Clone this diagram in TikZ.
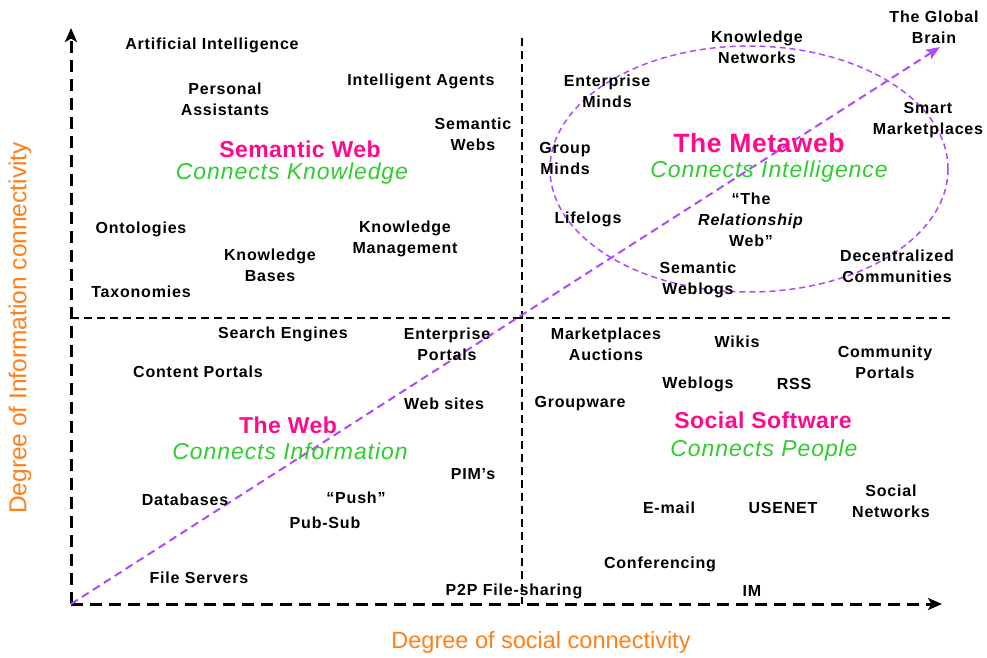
\documentclass[tikz,border=0pt]{standalone}
\usepackage{fontspec}
\setmainfont{Liberation Sans}
\usetikzlibrary{arrows.meta,positioning}
\definecolor{webpink}{HTML}{FF0A8C}
\definecolor{webgreen}{HTML}{2ECC2E}
\definecolor{axisorange}{HTML}{FF7F1A}
\definecolor{metaviolet}{HTML}{B048FF}
\tikzset{
item/.style={
  align=center,
  inner sep=0pt,
  font=\fontsize{16}{21}\selectfont\bfseries\addfontfeature{LetterSpace=5}
  },
area/.style={
  text=webpink,
  inner sep=0pt,
  font=\fontsize{23}{25}\selectfont\bfseries\addfontfeature{LetterSpace=2}
  },
motto/.style={
  text=webgreen,
  inner sep=0pt,
  font=\fontsize{23}{25}\selectfont\itshape\addfontfeature{LetterSpace=4}
  },
axislabel/.style={
  text=axisorange,
  inner sep=0pt,
  font=\fontsize{23.5}{25}\selectfont
  },
axis/.style={
  line width=3pt,
  dash pattern=on 12pt off 7pt,
  -{Stealth[length=14pt,width=12pt,inset=3.5pt]}
  },
divider/.style={
  line width=2.5pt,
  dash pattern=on 8pt off 5pt
  },
trend/.style={
  metaviolet,
  line width=2pt,
  dash pattern=on 8pt off 5pt
  }
}

\begin{document}
\begin{tikzpicture}[x=1pt,y=-1pt]
  \useasboundingbox (0,0) rectangle (987,657);

  % axes and quadrants
  \coordinate (origin) at (71,604);
  \coordinate (ytop) at (71,28);
  \coordinate (xend) at (942,604);
  \coordinate (vtop) at (522,38);
  \coordinate (vbot) at (522,604);
  \coordinate (hleft) at (71,318);
  \coordinate (hright) at (950,318);
  \coordinate (brain) at (940,47);

  \draw[divider] (vtop) -- (vbot);
  \draw[divider] (hleft) -- (hright);
  \draw[axis] (origin) -- (ytop);
  \draw[axis] (origin) -- (xend);

  \node[axislabel] (xlabel) at (541,642) {Degree of social connectivity};
  \node[axislabel,font=\fontsize{24.5}{26}\selectfont,rotate=90] (ylabel) at (20,328) {Degree of Information connectivity};

  % metaweb ellipse and trend
  \draw[metaviolet,line width=1.5pt,dash pattern=on 6pt off 4pt] (749,169) ellipse [x radius=199, y radius=123];
  \draw[trend,-{Stealth[length=14pt,width=11pt,inset=3pt]}] (origin) -- (brain);

  % semantic web
  \node[area] (semweb) at (300,149) {Semantic Web};
  \node[motto] (semwebm) at (292,174) {Connects Knowledge};
  \node[item] (ai) at (212,45) {Artificial Intelligence};
  \node[item] (assist) at (225,99) {Personal\\Assistants};
  \node[item] (agents) at (421,81) {Intelligent Agents};
  \node[item] (semwebs) at (473,134) {Semantic\\Webs};
  \node[item] (onto) at (141,229) {Ontologies};
  \node[item] (kbases) at (270,265) {Knowledge\\Bases};
  \node[item] (kmgmt) at (405,239) {Knowledge\\Management};
  \node[item] (taxo) at (141,292) {Taxonomies};

  % metaweb
  \node[area,font=\fontsize{26.5}{28}\selectfont\bfseries\addfontfeature{LetterSpace=2}] (metaweb) at (759,143) {The Metaweb};
  \node[motto] (metawebm) at (769,172) {Connects Intelligence};
  \node[item] (entminds) at (607,91) {Enterprise\\Minds};
  \node[item] (grpminds) at (565,158) {Group\\Minds};
  \node[item] (lifelogs) at (588,219) {Lifelogs};
  \node[item] (knets) at (757,47) {Knowledge\\Networks};
  \node[item] (global) at (934,27) {The Global\\Brain};
  \node[item] (smart) at (928,120) {Smart\\Marketplaces};
  \node[item] (relweb) at (751,220) {``The\\\textit{Relationship}\\Web''};
  \node[item] (semblogs) at (698,280) {Semantic\\Weblogs};
  \node[item] (decent) at (897,266) {Decentralized\\Communities};

  % the web
  \node[area] (web) at (288,425) {The Web};
  \node[motto] (webm) at (290,451) {Connects Information};
  \node[item] (search) at (283,334) {Search Engines};
  \node[item] (entportals) at (447,344) {Enterprise\\Portals};
  \node[item] (content) at (198,372) {Content Portals};
  \node[item] (websites) at (444,404) {Web sites};
  \node[item] (pims) at (473,474) {PIM's};
  \node[item] (dbs) at (185,500) {Databases};
  \node[item] (push) at (356,498) {``Push''};
  \node[item] (pubsub) at (325,523) {Pub-Sub};
  \node[item] (files) at (199,578) {File Servers};
  \node[item] (p2p) at (514,591) {P2P File-sharing};

  % social software
  \node[area] (social) at (763,420) {Social Software};
  \node[motto] (socialm) at (764,451) {Connects People};
  \node[item] (markets) at (606,344) {Marketplaces\\Auctions};
  \node[item] (wikis) at (737,342) {Wikis};
  \node[item] (comportals) at (885,362) {Community\\Portals};
  \node[item] (weblogs) at (698,384) {Weblogs};
  \node[item] (rss) at (794,384) {RSS};
  \node[item] (groupware) at (580,404) {Groupware};
  \node[item] (email) at (669,508) {E-mail};
  \node[item] (usenet) at (783,508) {USENET};
  \node[item] (socnets) at (891,501) {Social\\Networks};
  \node[item] (conf) at (660,564) {Conferencing};
  \node[item] (im) at (752,591) {IM};
\end{tikzpicture}
\end{document}
